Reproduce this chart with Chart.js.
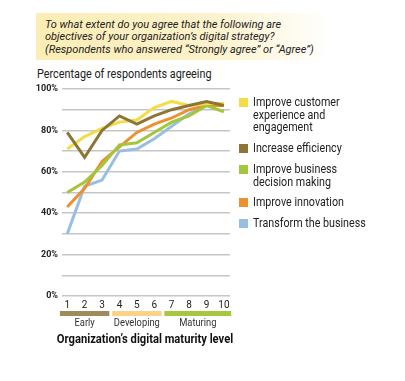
<!DOCTYPE html>
<html>
<head>
<meta charset="utf-8">
<script src="https://cdn.jsdelivr.net/npm/chart.js@4"></script>
<style>
  body { margin: 0; background: #fff; width: 405px; height: 381px; overflow: hidden; position: relative;
         font-family: Roboto, "DejaVu Sans", sans-serif; color: #222; }
  #question { position: absolute; left: 36px; top: 13px; width: 294px; height: 47px; box-sizing: border-box;
              padding: 5px 0 0 9px; font-style: italic; font-size: 11.8px; line-height: 12.4px;
              background: linear-gradient(to right, #fbedb4 0%, #fdf2cc 60%, #ffffff 100%); }
  #question span { display: inline-block; transform: scaleX(0.93); transform-origin: left top; white-space: nowrap; }
  #subtitle { position: absolute; left: 37px; top: 66px; font-size: 12.6px; white-space: nowrap;
              transform: scaleX(0.86); transform-origin: left top; }
  #chart { position: absolute; left: 0; top: 0; }
  #legend { position: absolute; left: 239px; top: 96px; font-size: 12.2px; line-height: 12.7px; }
  .item { position: relative; padding-left: 14px; margin-bottom: 8px; height: auto; }
  .sw { position: absolute; left: 0; top: 2px; width: 9px; height: 9px; }
  .txt { display: inline-block; width: 140px; transform: scaleX(0.88); transform-origin: left top; }
</style>
</head>
<body>
<div id="question"><span>To what extent do you agree that the following are<br>objectives of your organization’s digital strategy?<br>(Respondents who answered “Strongly agree” or “Agree”)</span></div>
<div id="subtitle">Percentage of respondents agreeing</div>
<canvas id="chart" width="405" height="381"></canvas>
<div id="legend"></div>
<script>
// maturity levels 1..10
var levels = [1, 2, 3, 4, 5, 6, 7, 8, 9, 10];
var seriesNames = ["Improve customer experience and engagement", "Increase efficiency",
  "Improve business decision making", "Improve innovation", "Transform the business"];
var seriesColors = ["#f4dc48", "#8c7536", "#a3c63a", "#ec9030", "#98bfe0"];

var customer   = [71, 77, 81, 84, 85, 91, 94, 92, 93, 93];
var efficiency = [79, 67, 80, 87, 83, 87, 90, 92, 94, 92];
var decision   = [50, 55, 63, 73, 74, 79, 84, 87, 92, 89];
var innovation = [43, 52, 65, 72, 79, 83, 86, 90, 92, 92];
var transform  = [30, 53, 56, 70, 71, 76, 82, 88, 92, 92];

var bandNames = ["Early", "Developing", "Maturing"];
var bandFrom = [1, 4, 7];
var bandTo = [3, 6, 10];
var bandColors = ["#a08c5b", "#fcd384", "#a5c83e"];
var xTitle = "Organization’s digital maturity level";

var allSeries = [customer, efficiency, decision, innovation, transform];

var datasets = allSeries.map(function (vals, i) {
  return {
    label: seriesNames[i],
    data: levels.map(function (l, j) { return { x: l, y: vals[j] }; }),
    borderColor: seriesColors[i],
    backgroundColor: seriesColors[i],
    borderWidth: 3,
    pointRadius: 0,
    tension: 0,
    order: i == 1 ? -1 : i
  };
});

// condensed text on the canvas
function narrowText(ctx, text, x, y, sx) {
  ctx.save();
  ctx.translate(x, y);
  ctx.scale(sx, 1);
  ctx.fillText(text, 0, 0);
  ctx.restore();
}

// bands, band labels and axis title under the x axis
var bandsPlugin = {
  id: "bands",
  afterDraw: function (chart) {
    var ctx = chart.ctx;
    var x = chart.scales.x;
    ctx.save();
    ctx.textAlign = "center";
    ctx.textBaseline = "middle";
    bandNames.forEach(function (name, i) {
      var x0 = x.getPixelForValue(bandFrom[i] - 0.42);
      var x1 = x.getPixelForValue(bandTo[i] + 0.42);
      ctx.fillStyle = bandColors[i];
      ctx.fillRect(x0, 311, x1 - x0, 5);
      ctx.fillStyle = "#333";
      ctx.font = "11px Roboto, sans-serif";
      narrowText(ctx, name, (x0 + x1) / 2, 323.5, 0.85);
    });
    ctx.font = "bold 13px Roboto, sans-serif";
    ctx.fillStyle = "#111";
    narrowText(ctx, xTitle, 145, 339.5, 0.86);
    ctx.restore();
  }
};

new Chart(document.getElementById("chart"), {
  type: "line",
  data: { datasets: datasets },
  plugins: [bandsPlugin],
  options: {
    responsive: false,
    animation: false,
    layout: { padding: { left: 0, top: 89, right: 175, bottom: 0 } },
    plugins: { legend: { display: false }, tooltip: { enabled: false } },
    scales: {
      x: {
        type: "linear",
        min: 0.7,
        max: 10.35,
        afterFit: function (s) { s.height = 85; },
        afterBuildTicks: function (s) { s.ticks = levels.map(function (v) { return { value: v }; }); },
        grid: { display: false, drawTicks: false },
        border: { display: false },
        ticks: { padding: 3, color: "#222", font: { family: "Roboto, sans-serif", size: 10 } }
      },
      y: {
        min: 0,
        max: 100,
        afterFit: function (s) { s.width = 62; },
        grid: { color: "#c6c6c6", lineWidth: 1.5, drawTicks: false },
        border: { display: false },
        ticks: {
          stepSize: 10,
          padding: 4,
          color: "#222",
          font: { family: "Roboto, sans-serif", size: 9, weight: "bold" },
          callback: function (v) { return v % 20 === 0 ? v + "%" : ""; }
        }
      }
    }
  }
});

var legend = document.getElementById("legend");
seriesNames.forEach(function (name, i) {
  var item = document.createElement("div");
  item.className = "item";
  item.innerHTML = '<span class="sw" style="background:' + seriesColors[i] + '"></span><span class="txt">' + name + '</span>';
  legend.appendChild(item);
});
</script>
</body>
</html>
